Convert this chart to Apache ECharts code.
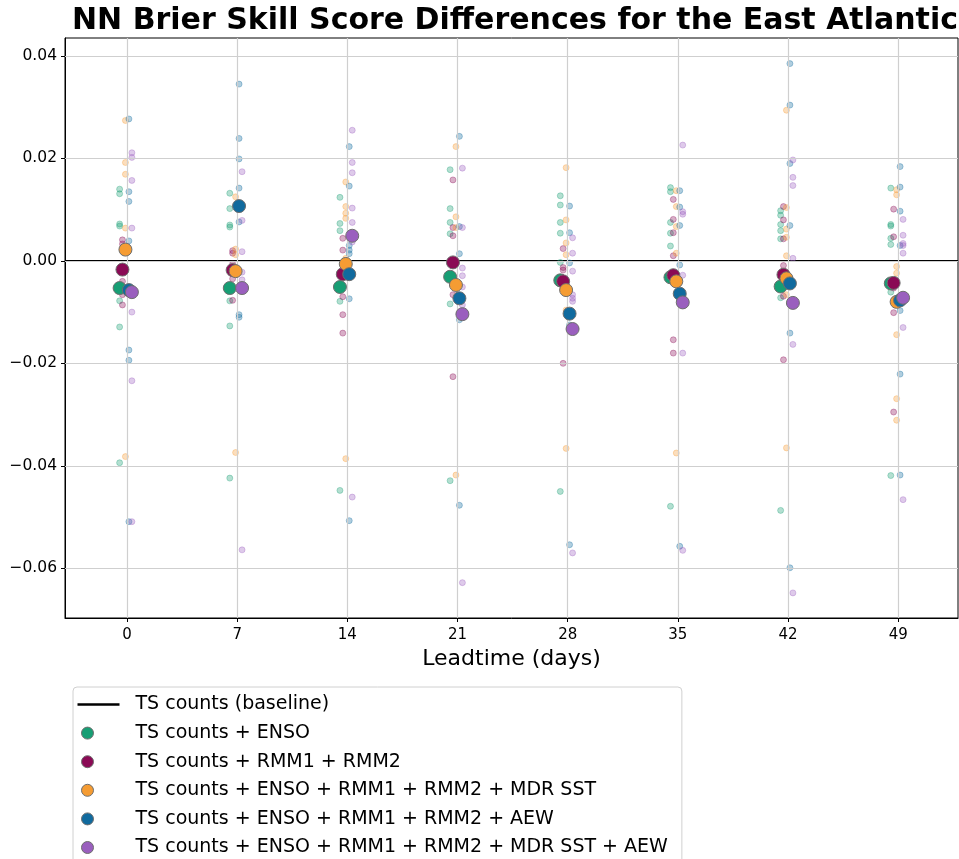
<!DOCTYPE html>
<html><head><meta charset="utf-8">
<script src="https://cdn.jsdelivr.net/npm/echarts@6/dist/echarts.min.js"></script>
<style>html,body{margin:0;padding:0;background:#fff}#c{width:959px;height:859px}</style>
</head><body><div id="c"></div>
<script>
const leadtimes = [0, 7, 14, 21, 28, 35, 42, 49];
const xTicks = [0, 7, 14, 21, 28, 35, 42, 49];
const yTicks = [-0.06, -0.04, -0.02, 0, 0.02, 0.04];
const seriesNames = [
  'TS counts + ENSO',
  'TS counts + RMM1 + RMM2',
  'TS counts + ENSO + RMM1 + RMM2 + MDR SST',
  'TS counts + ENSO + RMM1 + RMM2 + AEW',
  'TS counts + ENSO + RMM1 + RMM2 + MDR SST + AEW'
];
const baselineName = 'TS counts (baseline)';
const colors = ['#179e74', '#8a0a55', '#f59c33', '#106a9e', '#9a5fbe'];
const jitter = [-0.47, -0.29, -0.1, 0.12, 0.31];

// individual runs per leadtime
const ensoRuns = [
  [0.0140, 0.0131, 0.0072, 0.0068, -0.0078, -0.0129, -0.0394],
  [0.0132, 0.0102, 0.0070, 0.0066, -0.0078, -0.0127, -0.0424],
  [0.0124, 0.0073, 0.0059, -0.0079, -0.0448],
  [0.0178, 0.0102, 0.0075, 0.0053, -0.0084, -0.0429],
  [0.0127, 0.0109, 0.0075, 0.0054, -0.0003, -0.0450],
  [0.0143, 0.0135, 0.0075, 0.0054, 0.0029, -0.0479],
  [0.0098, 0.0089, 0.0071, 0.0059, 0.0043, -0.0072, -0.0487],
  [0.0142, 0.0071, 0.0068, 0.0044, 0.0032, -0.0061, -0.0419]
];
const rmmRuns = [
  [0.0041, 0.0033, -0.0040, -0.0066, -0.0086],
  [0.0020, 0.0015, -0.0006, -0.0035, -0.0077],
  [0.0044, 0.0021, -0.0070, -0.0105, -0.0141],
  [0.0158, 0.0065, 0.0049, -0.0066, -0.0226],
  [0.0024, -0.0013, -0.0018, -0.0200],
  [0.0120, 0.0081, 0.0055, 0.0010, -0.0154, -0.0180],
  [0.0106, 0.0080, 0.0043, -0.0009, -0.0069, -0.0193],
  [0.0101, 0.0047, -0.0053, -0.0101, -0.0295]
];
const mdrRuns = [
  [0.0274, 0.0192, 0.0169, 0.0064, -0.0018, -0.0382],
  [0.0125, 0.0023, 0.0012, -0.0374],
  [0.0154, 0.0106, 0.0093, 0.0083, 0.0005, -0.0386],
  [0.0223, 0.0086, 0.0065, -0.0418],
  [0.0182, 0.0080, 0.0035, 0.0012, -0.0096, -0.0366],
  [0.0137, 0.0106, 0.0067, 0.0015, -0.0375],
  [0.0294, 0.0104, 0.0062, 0.0046, 0.0010, -0.0066, -0.0365],
  [0.0139, 0.0129, -0.0011, -0.0024, -0.0144, -0.0269, -0.0311]
];
const aewRuns = [
  [0.0277, 0.0135, 0.0116, 0.0039, -0.0174, -0.0194, -0.0509],
  [0.0345, 0.0239, 0.0199, 0.0142, 0.0076, -0.0105, -0.0110],
  [0.0223, 0.0146, 0.0030, 0.0021, 0.0014, -0.0074, -0.0507],
  [0.0243, 0.0067, 0.0014, -0.0115, -0.0477],
  [0.0107, 0.0055, -0.0004, -0.0125, -0.0554],
  [0.0137, 0.0105, 0.0069, -0.0008, -0.0557],
  [0.0385, 0.0304, 0.0190, 0.0069, -0.0084, -0.0141, -0.0599],
  [0.0184, 0.0144, 0.0097, 0.0030, -0.0097, -0.0221, -0.0418]
];
const allRuns = [
  [0.0211, 0.0202, 0.0157, 0.0064, -0.0100, -0.0234, -0.0509],
  [0.0174, 0.0079, 0.0018, -0.0022, -0.0037, -0.0564],
  [0.0255, 0.0192, 0.0172, 0.0103, 0.0075, 0.0037, -0.0461],
  [0.0181, 0.0065, -0.0014, -0.0029, -0.0051, -0.0086, -0.0628],
  [0.0045, 0.0015, -0.0020, -0.0066, -0.0073, -0.0079, -0.0570],
  [0.0226, 0.0096, 0.0091, -0.0028, -0.0180, -0.0565],
  [0.0197, 0.0163, 0.0147, 0.0005, -0.0163, -0.0648],
  [0.0081, 0.0050, 0.0034, 0.0030, 0.0015, -0.0130, -0.0466]
];
// mean per leadtime (large markers)
const ensoMean = [-0.0053, -0.0053, -0.0051, -0.0031, -0.0038, -0.0032, -0.0050, -0.0044];
const rmmMean  = [-0.0017, -0.0018, -0.0026, -0.0003, -0.0040, -0.0028, -0.0027, -0.0043];
const mdrMean  = [ 0.0022, -0.0020, -0.0006, -0.0047, -0.0057, -0.0040, -0.0034, -0.0080];
const aewMean  = [-0.0057,  0.0107, -0.0026, -0.0073, -0.0103, -0.0064, -0.0044, -0.0077];
const allMean  = [-0.0061, -0.0053,  0.0049, -0.0104, -0.0133, -0.0081, -0.0082, -0.0072];

const runs = [ensoRuns, rmmRuns, mdrRuns, aewRuns, allRuns];
const means = [ensoMean, rmmMean, mdrMean, aewMean, allMean];

const XMIN = -3.94, XMAX = 52.8, YMIN = -0.0697, YMAX = 0.0435;
const FONT = 'DejaVu Sans';

function fmtY(v) {
  const s = Math.abs(v).toFixed(2);
  return (v < -1e-9 ? '\u2212' : '') + s;
}

const series = [];
// gridlines
series.push({
  type: 'line', data: [], z: 0, silent: true,
  markLine: {
    silent: true, symbol: 'none', label: {show: false}, animation: false,
    lineStyle: {color: '#cfcfcf', width: 1.2, type: 'solid'},
    data: xTicks.map(v => ({xAxis: v})).concat(yTicks.map(v => ({yAxis: v})))
  }
});
// baseline
series.push({
  name: baselineName, type: 'line', z: 3, symbol: 'none', silent: true,
  itemStyle: {color: '#000'},
  lineStyle: {color: '#000', width: 2},
  data: [[XMIN, 0], [XMAX, 0]]
});
// small points
runs.forEach((r, i) => {
  const d = [];
  r.forEach((vals, j) => vals.forEach(v => d.push([leadtimes[j] + jitter[i], v])));
  series.push({
    name: seriesNames[i], type: 'scatter', z: 4, symbolSize: 6, data: d,
    itemStyle: {color: colors[i], opacity: 0.33, borderColor: colors[i], borderWidth: 1}
  });
});
// large points
means.forEach((m, i) => {
  series.push({
    name: seriesNames[i], type: 'scatter', z: 5, symbolSize: 13,
    data: m.map((v, j) => [leadtimes[j] + jitter[i], v]),
    itemStyle: {color: colors[i], opacity: 1, borderColor: '#6e6e6e', borderWidth: 1}
  });
});

const lineIcon = 'path://M0,5.75H42V8.25H0Z M53,7L53,7.01';
const circIcon = 'path://M4,7A6,6 0 1,0 16,7A6,6 0 1,0 4,7Z M0,7L0,7.01 M53,7L53,7.01';

const legendData = [{name: baselineName, icon: lineIcon, itemStyle: {color: '#000', borderWidth: 0}}]
  .concat(seriesNames.map((n, i) => ({
    name: n, icon: circIcon,
    itemStyle: {color: colors[i], borderColor: '#6e6e6e', borderWidth: 1, opacity: 1}
  })));

const chart = echarts.init(document.getElementById('c'), null, {renderer: 'canvas'});
chart.setOption({
  animation: false,
  backgroundColor: '#fff',
  title: {
    text: 'NN Brier Skill Score Differences for the East Atlantic',
    left: 510, top: 1, textAlign: 'center',
    textStyle: {fontFamily: FONT, fontWeight: 'bold', fontSize: 30, color: '#000'}
  },
  grid: {left: 65, right: 1, top: 38, bottom: 241, show: true, borderColor: '#000', borderWidth: 1, containLabel: false},
  xAxis: {
    type: 'value', min: XMIN, max: XMAX,
    name: 'Leadtime (days)', nameLocation: 'middle', nameGap: 28,
    nameTextStyle: {fontFamily: FONT, fontSize: 22, color: '#000'},
    axisLine: {show: true, onZero: false, lineStyle: {color: '#000', width: 1}},
    axisTick: {show: true, customValues: xTicks, length: 4, lineStyle: {color: '#000'}},
    axisLabel: {customValues: xTicks, fontFamily: FONT, fontSize: 15, color: '#000', margin: 10},
    splitLine: {show: false}
  },
  yAxis: {
    type: 'value', min: YMIN, max: YMAX,
    axisLine: {show: true, onZero: false, lineStyle: {color: '#000', width: 1}},
    axisTick: {show: true, customValues: yTicks, length: 4, lineStyle: {color: '#000'}},
    axisLabel: {customValues: yTicks, formatter: fmtY, fontFamily: FONT, fontSize: 15.5, color: '#000', margin: 8},
    splitLine: {show: false}
  },
  legend: {
    orient: 'vertical', left: 73, top: 687, height: 400,
    padding: [8, 14, 8, 4],
    itemWidth: 53, itemHeight: 14, itemGap: 9.6,
    borderColor: '#d0d0d0', borderWidth: 1, borderRadius: 4,
    backgroundColor: '#fff',
    selectedMode: false,
    textStyle: {fontFamily: FONT, fontSize: 19, color: '#000'},
    data: legendData
  },
  series: series
});
</script>
</body></html>
